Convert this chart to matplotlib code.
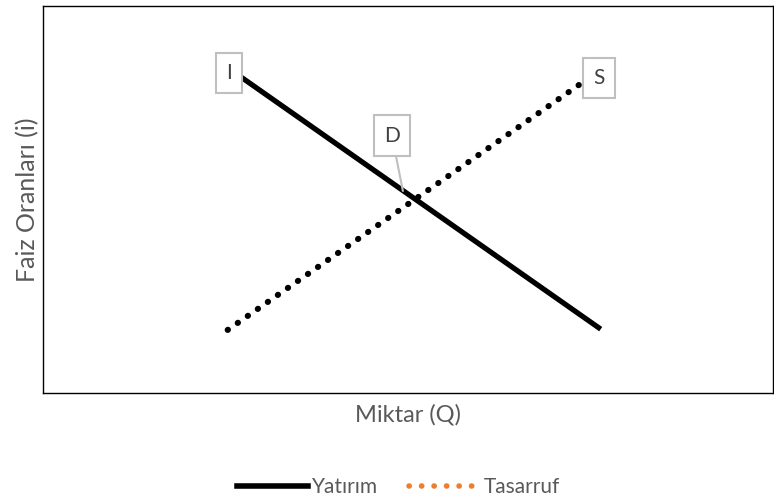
import matplotlib.pyplot as plt
from matplotlib.lines import Line2D

plt.rcParams['font.family'] = ['Lato', 'DejaVu Sans']

# yatirim (investment) and tasarruf (savings) lines, two points each
yatirim_x = [2.67, 7.64]
yatirim_y = [8.22, 1.65]
tasarruf_x = [2.53, 7.44]
tasarruf_y = [1.63, 8.09]
denge_x = 4.98   # intersection D
denge_y = 5.10

fig = plt.figure(figsize=(7.74, 5), dpi=100)
ax = fig.add_axes([43/774, 107/500, 730/774, 387/500])

ax.plot(yatirim_x, yatirim_y, color='black', lw=3.8, solid_capstyle='butt')
ax.plot(tasarruf_x, tasarruf_y, color='black', lw=4.4,
        linestyle=(0, (0.05, 1.95)), dash_capstyle='round')

ax.set_xlim(0, 10)
ax.set_ylim(0, 10)
ax.set_xticks([])
ax.set_yticks([])
for sp in ax.spines.values():
    sp.set_linewidth(1.0)
    sp.set_color('black')

box = dict(boxstyle='square,pad=0.5', fc='white', ec='#bfbfbf', lw=1.5)
ax.text(yatirim_x[0] - 0.08, yatirim_y[0] + 0.05, 'I', ha='right', va='center',
        fontsize=15, color='#404040', bbox=box, zorder=3)
ax.text(tasarruf_x[1] + 0.1, tasarruf_y[1] + 0.05, 'S', ha='left', va='center',
        fontsize=15, color='#404040', bbox=box, zorder=3)
ax.annotate('D', xy=(denge_x - 0.05, denge_y + 0.12), xytext=(4.78, 6.65),
            ha='center', va='center', fontsize=15, color='#404040', bbox=box,
            arrowprops=dict(arrowstyle='-', color='#bfbfbf', lw=1.5,
                            shrinkA=0, shrinkB=0))

ax.set_xlabel('Miktar (Q)', fontsize=17, color='#595959', labelpad=8)
ax.set_ylabel('Faiz Oranları (i)', fontsize=18, color='#595959', labelpad=3)

handles = [Line2D([], [], color='black', lw=4),
           Line2D([], [], color='#ed7d31', lw=4, linestyle=(0, (0.05, 2.2)),
                  dash_capstyle='round')]
fig.legend(handles, ['Yatırım', 'Tasarruf'], loc='center', bbox_to_anchor=(0.515, 0.026),
           ncol=2, frameon=False, fontsize=15, handlelength=3.4,
           handletextpad=0.2, columnspacing=1.5, labelcolor='#595959')

fig.savefig('out.png', dpi=100)
